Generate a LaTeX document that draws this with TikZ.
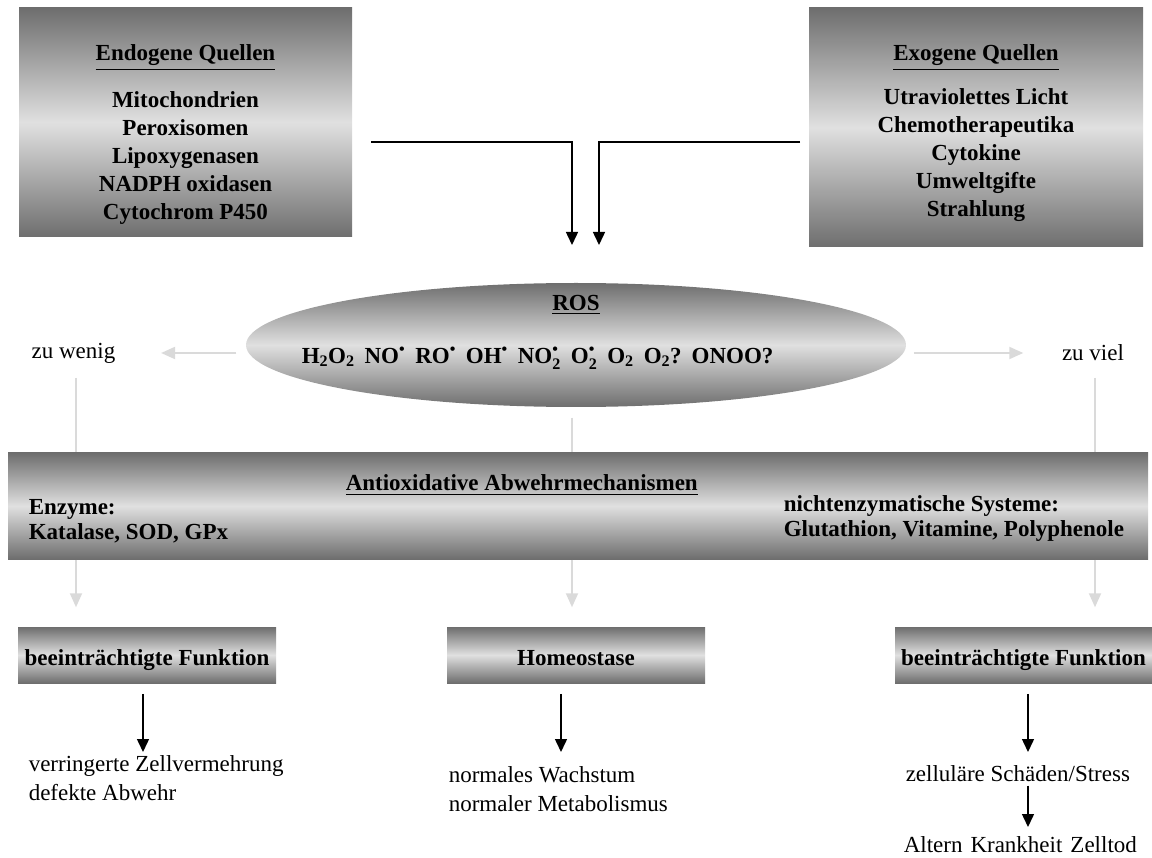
\documentclass[tikz,border=0pt]{standalone}
\usepackage{amsmath}
\usepackage{fontspec}
\setmainfont{Liberation Serif}
\usetikzlibrary{arrows.meta,positioning,shapes.geometric,calc}
\definecolor{shadedark}{HTML}{6E6E6E}
\definecolor{shadelight}{HTML}{E0E0E0}
\definecolor{linegray}{HTML}{DADADA}
\newcommand{\rad}{$^{\text{\textbullet}}$}
\newcommand{\subrad}[1]{$_{\text{#1}}^{\text{\textbullet}}$}

\begin{document}
\begin{tikzpicture}[x=1pt, y=-1pt, >=Stealth, line width=1.5pt,
  shadebox/.style={top color=shadedark, bottom color=shadedark, middle color=shadelight, inner sep=0pt},
  boldtext/.style={font=\fontsize{23}{28}\selectfont\bfseries, align=center, inner sep=0pt},
  plaintext/.style={font=\fontsize{23}{29}\selectfont, align=left, inner sep=0pt},
  blackarrow/.style={-{Triangle[length=13pt,width=12pt]}, black},
  grayline/.style={linegray, line width=2pt},
  grayarrow/.style={-{Triangle[length=14pt,width=12pt]}, linegray, line width=2pt}]
\useasboundingbox (0,0) rectangle (1152,858);
\coordinate (colL) at (76,0);
\coordinate (colM) at (572,0);
\coordinate (colR) at (1095,0);
% sources
\node[shadebox, minimum width=333pt, minimum height=229pt] (endo) at (185.5,122.5) {};
\node[shadebox, minimum width=334pt, minimum height=239pt] (exo) at (976,127.5) {};
\node[boldtext] (endohead) at (185.5,58) {\underline{Endogene Quellen}};
\node[boldtext] (endolist) at (185.5,158) {Mitochondrien\\Peroxisomen\\Lipoxygenasen\\NADPH oxidasen\\Cytochrom P450};
\node[boldtext] (exohead) at (976,58) {\underline{Exogene Quellen}};
\node[boldtext] (exolist) at (976,155) {Utraviolettes Licht\\Chemotherapeutika\\Cytokine\\Umweltgifte\\Strahlung};
\coordinate (inL) at (371,142);
\coordinate (inR) at (800,142);
\coordinate (tipL) at (572,245);
\coordinate (tipR) at (599,245);
\draw[blackarrow] (inL) -| (tipL);
\draw[blackarrow] (inR) -| (tipR);
% ROS
\node[ellipse, shadebox, minimum width=660pt, minimum height=124pt] (ros) at (576,345) {};
\node[boldtext] (rostitle) at (576,305) {\underline{ROS}};
\node[boldtext, anchor=west] (rosformula) at (301,358) {H\textsubscript{2}O\textsubscript{2}\hspace{10pt}NO\rad\hspace{10pt}RO\rad\hspace{10pt}OH\rad\hspace{10pt}NO\subrad{2}\hspace{10pt}O\subrad{2}\hspace{10pt}O\textsubscript{2}\hspace{10pt}O\textsubscript{2}?\hspace{10pt}ONOO?};
\node[plaintext] (wenig) at (73.5,353) {zu wenig};
\node[plaintext] (viel) at (1093,353) {zu viel};
\draw[grayarrow] ([xshift=-9pt]ros.west |- wenig) -- ([xshift=45pt]wenig.east);
\draw[grayarrow] ([xshift=7pt]ros.east |- viel) -- ([xshift=-38pt]viel.west);
% defence
\node[shadebox, minimum width=1140pt, minimum height=106pt] (abwehr) at (578,506) {};
\node[boldtext, anchor=west] (abwehrhead) at (345,485) {\underline{Antioxidative Abwehrmechanismen}};
\node[boldtext, font=\fontsize{23}{25}\selectfont\bfseries, align=left, anchor=west] (enzyme) at (28,521) {Enzyme:\\Katalase, SOD, GPx};
\node[boldtext, font=\fontsize{23}{25}\selectfont\bfseries, align=left, anchor=west] (nonenzyme) at (783,519) {nichtenzymatische Systeme:\\Glutathion, Vitamine, Polyphenole};
\draw[grayline] ([yshift=-14pt]wenig.south -| colL) -- (abwehr.north -| colL);
\draw[grayline] ([yshift=-10pt]ros.south -| colM) -- (abwehr.north -| colM);
\draw[grayline] ([yshift=-14pt]wenig.south -| colR) -- (abwehr.north -| colR);
% outcomes
\node[shadebox, minimum width=258pt, minimum height=56pt] (lowfunc) at (147,655) {};
\node[shadebox, minimum width=258pt, minimum height=56pt] (homeo) at (576,655) {};
\node[shadebox, minimum width=257pt, minimum height=56pt] (highfunc) at (1023.5,655) {};
\node[boldtext, anchor=base] at (lowfunc.center |- 0,665) {beeinträchtigte Funktion};
\node[boldtext, anchor=base] at (homeo.center |- 0,665) {Homeostase};
\node[boldtext, anchor=base] at (highfunc.center |- 0,665) {beeinträchtigte Funktion};
\draw[grayarrow] (abwehr.south -| colL) -- ([yshift=19pt]lowfunc.north -| colL);
\draw[grayarrow] (abwehr.south -| colM) -- ([yshift=19pt]homeo.north -| colM);
\draw[grayarrow] (abwehr.south -| colR) -- ([yshift=19pt]highfunc.north -| colR);
\node[plaintext, anchor=north west] (lowtext) at (28,755) {verringerte Zellvermehrung\\defekte Abwehr};
\node[plaintext, anchor=north west] (homeotext) at (448,766) {normales Wachstum\\normaler Metabolismus};
\node[plaintext, anchor=north west] (hightext) at (905,765) {zelluläre Schäden/Stress};
\node[plaintext, anchor=north west] (endtext) at (903,836) {Altern\hspace{8pt}Krankheit\hspace{8pt}Zelltod};
\draw[blackarrow] ([yshift=-10pt]lowfunc.south -| 143,0) -- ([yshift=3pt]lowtext.north -| 143,0);
\draw[blackarrow] ([yshift=-10pt]homeo.south -| 561,0) -- ([yshift=14pt]homeotext.north -| 561,0);
\draw[blackarrow] ([yshift=-10pt]highfunc.south -| 1028,0) -- ([yshift=13pt]hightext.north -| 1028,0);
\draw[blackarrow] ([yshift=-3pt]hightext.south -| 1028,0) -- ([yshift=9pt]endtext.north -| 1028,0);
\end{tikzpicture}
\end{document}
